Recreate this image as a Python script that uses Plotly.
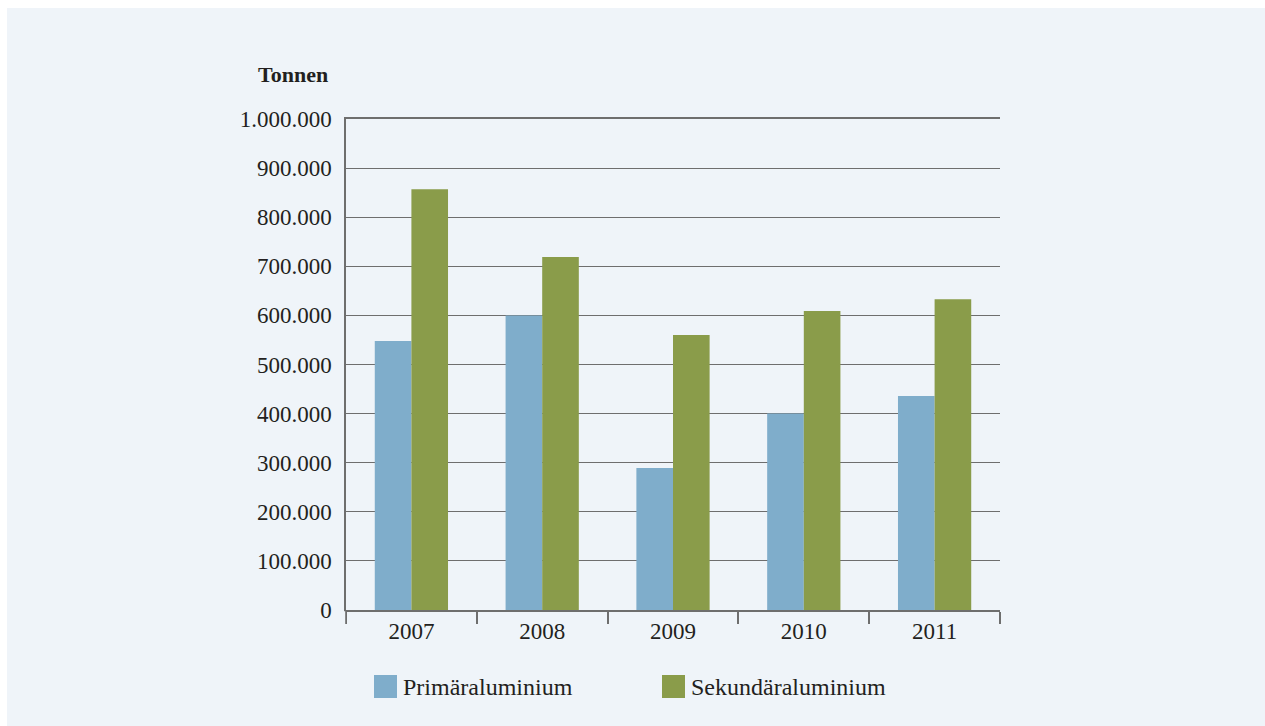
import plotly.graph_objects as go

# Aluminiumproduktion in Tonnen
years = ["2007", "2008", "2009", "2010", "2011"]
primaer = [548000, 600000, 289000, 400000, 436000]
sekundaer = [857000, 719000, 560000, 609000, 633000]
series_names = ["Primäraluminium", "Sekundäraluminium"]
y_ticks = [0, 100000, 200000, 300000, 400000, 500000, 600000, 700000, 800000, 900000, 1000000]
y_tick_labels = ["0", "100.000", "200.000", "300.000", "400.000", "500.000",
                 "600.000", "700.000", "800.000", "900.000", "1.000.000"]

BLUE = "#7FADCB"
GREEN = "#8A9C4A"
PANEL = "#EFF4F9"
GRID = "#6E6E6E"
TEXT = "#231F20"
FONT = "Liberation Serif"

W, H = 1265, 726
L, R, T, B = 346, 265, 119, 116

fig = go.Figure()
fig.add_trace(go.Bar(x=years, y=primaer, name=series_names[0],
                     marker=dict(color=BLUE, line=dict(width=0))))
fig.add_trace(go.Bar(x=years, y=sekundaer, name=series_names[1],
                     marker=dict(color=GREEN, line=dict(width=0))))

pw = W - L - R
ph = H - T - B


def px_x(x):
    return (x - L) / pw


def px_y(y):
    return (H - B - y) / ph


shapes = [
    # light panel behind the chart
    dict(type="rect", xref="paper", yref="paper", layer="below",
         x0=px_x(7), x1=px_x(W + 5), y0=px_y(H + 5), y1=px_y(8),
         fillcolor=PANEL, line=dict(width=0)),
    # the category axis has no tick at its left end
    dict(type="rect", xref="paper", yref="paper", layer="above",
         x0=px_x(343), x1=px_x(345.2), y0=px_y(625), y1=px_y(611.2),
         fillcolor=PANEL, line=dict(width=0)),
]

annotations = [
    dict(text="<b>Tonnen</b>", xref="paper", yref="paper",
         x=px_x(330), y=px_y(75), xanchor="right", yanchor="middle",
         showarrow=False, font=dict(family=FONT, size=22, color=TEXT)),
]

# legend drawn as swatches with labels below the axis
legend_items = [(series_names[0], BLUE, 374), (series_names[1], GREEN, 662)]
for name, color, x0 in legend_items:
    shapes.append(dict(type="rect", xref="paper", yref="paper",
                       x0=px_x(x0), x1=px_x(x0 + 23), y0=px_y(698), y1=px_y(675),
                       fillcolor=color, line=dict(width=0)))
    annotations.append(dict(text=name, xref="paper", yref="paper",
                            x=px_x(x0 + 27), y=px_y(687), xanchor="left",
                            yanchor="middle", showarrow=False,
                            font=dict(family=FONT, size=24, color=TEXT)))

fig.update_layout(
    width=W, height=H,
    margin=dict(l=L, r=R, t=T, b=B, pad=0),
    paper_bgcolor="white",
    plot_bgcolor="rgba(0,0,0,0)",
    barmode="group",
    bargap=0.44,
    bargroupgap=0,
    showlegend=False,
    font=dict(family=FONT, size=23, color=TEXT),
    shapes=shapes,
    annotations=annotations,
    xaxis=dict(
        type="category",
        showgrid=False,
        showline=True, linecolor=GRID, linewidth=1.5,
        mirror=True,  # top line doubles as the 1.000.000 grid line
        ticks="outside", tickson="boundaries", ticklen=12,
        tickcolor=GRID, tickwidth=1.5,
        tickfont=dict(family=FONT, size=23, color=TEXT),
        fixedrange=True,
    ),
    yaxis=dict(
        range=[0, 1000000],
        tickvals=y_ticks, ticktext=y_tick_labels,
        showgrid=True, gridcolor=GRID, gridwidth=1.4,
        showline=True, linecolor=GRID, linewidth=1.5,
        zeroline=False,
        ticks="", ticklabelstandoff=8,
        tickfont=dict(family=FONT, size=23, color=TEXT),
        fixedrange=True,
    ),
)

fig.write_html("out.html")
